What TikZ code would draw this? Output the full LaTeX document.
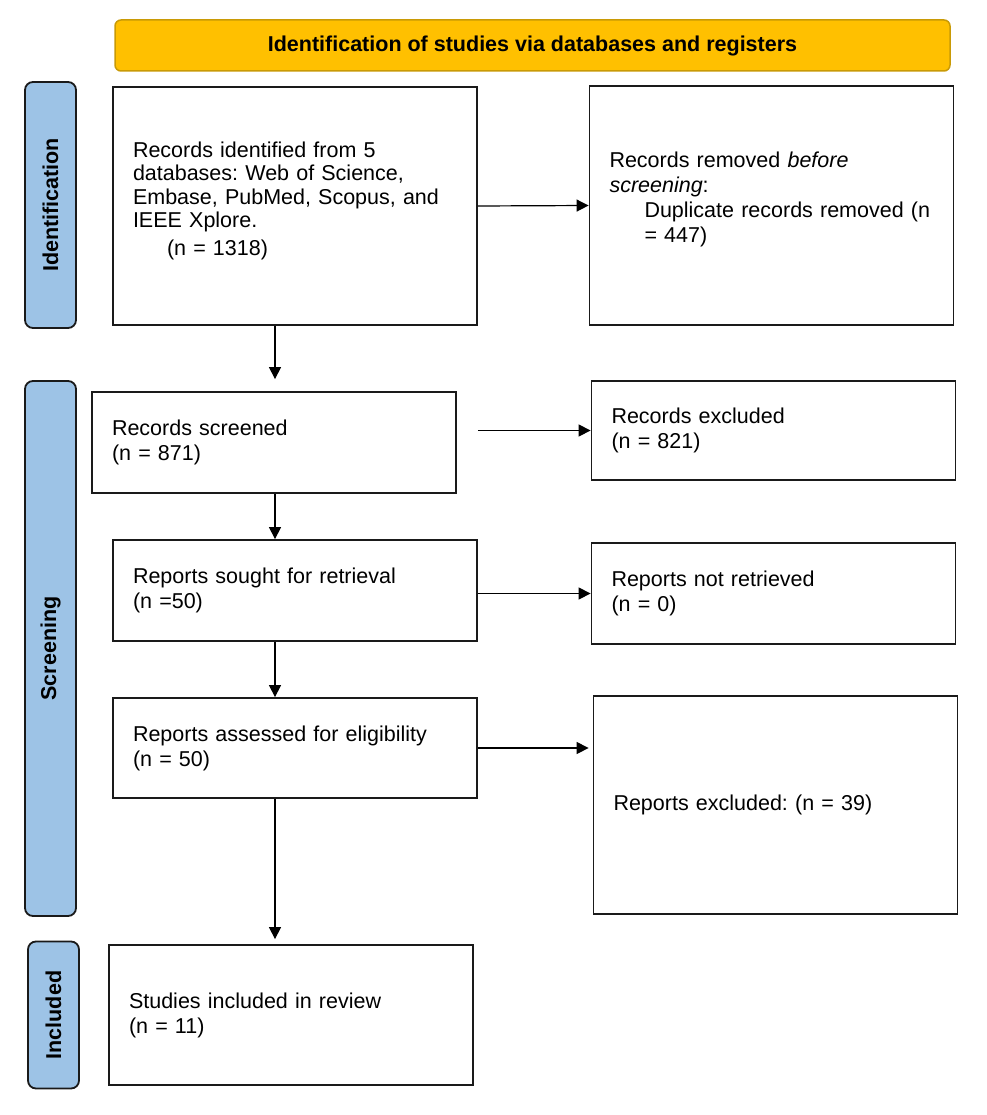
\documentclass[tikz,border=0pt]{standalone}
\usepackage{fontspec}
\setmainfont{Liberation Sans}
\usetikzlibrary{arrows.meta,calc}
\definecolor{Gold}{HTML}{FFC000}
\definecolor{GoldEdge}{HTML}{C99A06}
\definecolor{SideBlue}{HTML}{9DC3E6}
\definecolor{Edge}{HTML}{1A1A1A}
\frenchspacing

\begin{document}
\begin{tikzpicture}[x=1pt,y=-1pt,
    txt/.style={font=\fontsize{21.5}{25}\selectfont},
    pbox/.style={draw=Edge,line width=1.8pt,fill=white,align=left,
      inner xsep=20pt,inner ysep=0pt,text width=324pt,txt},
    phase/.style={draw=Edge,line width=1.8pt,fill=SideBlue,rounded corners=8pt,
      rotate=90,minimum height=51pt,inner sep=0pt,
      font=\fontsize{21.5}{25}\selectfont\bfseries},
    arr/.style={line width=1.2pt,-{Triangle[length=12pt,width=12pt]}}]
    \useasboundingbox (0,0) rectangle (986,1115);
    \node[draw=GoldEdge,line width=1.5pt,fill=Gold,rounded corners=6pt,
      minimum width=835pt,minimum height=51pt,
      font=\fontsize{21.5}{25}\selectfont\bfseries] (head) at (532.5,45.5)
      {Identification of studies via databases and registers};
    \node[phase,minimum width=246pt] (idphase) at (50.5,205) {Identification};
    \node[phase,minimum width=535pt] (scrphase) at (50.5,648.5) {Screening};
    \node[phase,minimum width=147pt] (incphase) at (53.5,1015) {Included};

    \node[pbox,minimum height=238pt,font=\fontsize{21.5}{23.5}\selectfont] (ident) at (295,206)
      {Records identified from 5\\databases: Web of Science,\\Embase, PubMed, Scopus, and\\IEEE Xplore.\\[4pt]\hspace*{34pt}(n = 1318)\\[-8pt]\mbox{}};
    \node[pbox,minimum height=239pt] (removed) at (771.5,205.5)
      {Records removed \textit{before}\\\textit{screening}:\\\hspace*{35pt}Duplicate records removed (n\\\hspace*{35pt}= 447)\\[-8pt]\mbox{}};
    \node[pbox,minimum height=101pt] (screened) at (274,442.5)
      {Records screened\\(n = 871)};
    \node[pbox,minimum height=99pt] (excl) at (773.5,430.5)
      {Records excluded\\(n = 821)};
    \node[pbox,minimum height=101pt] (sought) at (295,590.5)
      {Reports sought for retrieval\\(n =50)};
    \node[pbox,minimum height=101pt] (notret) at (773.5,593.5)
      {Reports not retrieved\\(n = 0)};
    \node[pbox,minimum height=100pt] (assessed) at (295,748)
      {Reports assessed for eligibility\\(n = 50)};
    \node[pbox,minimum height=218pt] (repexcl) at (775.5,805)
      {Reports excluded: (n = 39)};
    \node[pbox,minimum height=140pt] (included) at (291,1015)
      {Studies included in review\\(n = 11)};

    \coordinate (trunk) at (275,0);
    \draw[arr] (ident.south -| trunk) -- ($(screened.north -| trunk)+(0,-12)$);
    \draw[arr] (screened.south -| trunk) -- (sought.north -| trunk);
    \draw[arr] (sought.south -| trunk) -- (assessed.north -| trunk);
    \draw[arr] (assessed.south -| trunk) -- ($(included.north -| trunk)+(0,-5)$);
    \draw[arr] (ident.east) -- (removed.west);
    \draw[arr] (excl.west -| ident.east) -- (excl.west);
    \draw[arr] (notret.west -| ident.east) -- (notret.west);
    \draw[arr] (assessed.east) -- ($(assessed.east -| repexcl.west)+(-4,0)$);
\end{tikzpicture}
\end{document}
